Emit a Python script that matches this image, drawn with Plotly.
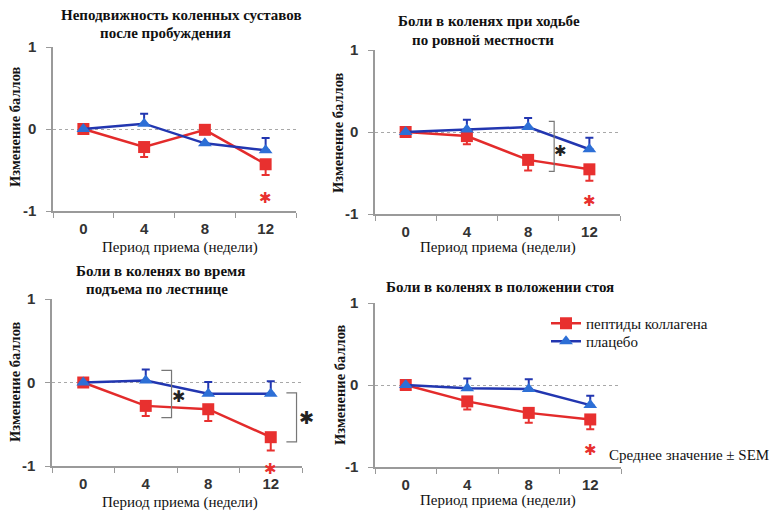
import plotly.graph_objects as go

W, H = 771, 512

weeks = [0, 4, 8, 12]
tick_labels = ["0", "4", "8", "12"]

titles = [
    ["Неподвижность коленных суставов", "после пробуждения"],
    ["Боли в коленях при ходьбе", "по ровной местности"],
    ["Боли в коленях во время", "подъема по лестнице"],
    ["Боли в коленях в положении стоя"],
]

# collagen peptides (mean change, SEM)
collagen_1 = [0, -0.22, -0.01, -0.43]
collagen_1_sem = [0, 0.12, 0.0, 0.13]
collagen_2 = [0, -0.05, -0.34, -0.455]
collagen_2_sem = [0, 0.10, 0.13, 0.14]
collagen_3 = [0, -0.28, -0.32, -0.655]
collagen_3_sem = [0, 0.12, 0.14, 0.16]
collagen_4 = [0, -0.20, -0.34, -0.42]
collagen_4_sem = [0, 0.10, 0.12, 0.12]

# placebo (mean change, SEM)
placebo_1 = [0, 0.065, -0.175, -0.26]
placebo_1_sem = [0, 0.12, 0.0, 0.15]
placebo_2 = [0, 0.03, 0.06, -0.21]
placebo_2_sem = [0, 0.12, 0.11, 0.14]
placebo_3 = [0, 0.025, -0.135, -0.135]
placebo_3_sem = [0, 0.13, 0.14, 0.15]
placebo_4 = [0, -0.04, -0.05, -0.245]
placebo_4_sem = [0, 0.12, 0.12, 0.115]

collagen = [collagen_1, collagen_2, collagen_3, collagen_4]
collagen_sem = [collagen_1_sem, collagen_2_sem, collagen_3_sem, collagen_4_sem]
placebo = [placebo_1, placebo_2, placebo_3, placebo_4]
placebo_sem = [placebo_1_sem, placebo_2_sem, placebo_3_sem, placebo_4_sem]

# significance marks: (panel, week, value)
red_star = [(0, 12, -0.84), (1, 12, -0.84), (2, 12, -1.04), (3, 12, -0.79)]
black_star = [(1, 10.1, -0.23, 15), (2, 6.1, -0.165, 16), (2, 14.3, -0.42, 18)]
# brackets: (panel, x_vertical, x_tick_end, y_top, y_bottom)
brackets = [(1, 9.7, 9.35, 0.13, -0.48), (2, 5.65, 5.0, 0.145, -0.42), (2, 13.65, 13.0, -0.125, -0.71)]

X_RANGE = [-2, 14]
Y_RANGE = [-1, 1]

RED = "#e8302f"
RED_LINE = "#e32b2b"
BLUE = "#2d6fd6"
BLUE_LINE = "#2236b0"
GRID = "#a8a8a8"
AXIS = "#9a9a9a"
SERIF = "Liberation Serif"
SANS = "Liberation Sans"

# panel geometry in pixels: (left, right, top(y=1), bottom(y=-1))
panels_px = [(53, 296, 47, 211), (375, 620, 50, 214), (52, 302, 299, 466), (375, 621, 303, 467)]


def px(x):
    return x / W


def py(y):
    return 1 - y / H


def data_to_paper(i, xv, yv):
    l, r, t, b = panels_px[i]
    xp = l + (xv - X_RANGE[0]) / (X_RANGE[1] - X_RANGE[0]) * (r - l)
    yp = b - (yv - Y_RANGE[0]) / (Y_RANGE[1] - Y_RANGE[0]) * (b - t)
    return px(xp), py(yp)


fig = go.Figure()

tick_font = dict(family=SANS, size=15, color="#333", weight="bold")

for i in range(4):
    xa = "x" if i == 0 else f"x{i+1}"
    ya = "y" if i == 0 else f"y{i+1}"
    fig.add_trace(go.Scatter(
        x=weeks, y=collagen[i], xaxis=xa, yaxis=ya, mode="lines+markers",
        name="пептиды коллагена", showlegend=(i == 3), legend="legend",
        line=dict(color=RED_LINE, width=2.5),
        marker=dict(symbol="square", size=12, color=RED),
        error_y=dict(type="data", symmetric=False, array=[0] * 4, arrayminus=collagen_sem[i],
                     color=RED, thickness=2, width=4),
        cliponaxis=False,
    ))
    fig.add_trace(go.Scatter(
        x=weeks, y=placebo[i], xaxis=xa, yaxis=ya, mode="lines+markers",
        name="плацебо", showlegend=(i == 3), legend="legend2",
        line=dict(color=BLUE_LINE, width=2.5),
        marker=dict(symbol="triangle-up", size=12, color=BLUE),
        error_y=dict(type="data", symmetric=False, array=placebo_sem[i], arrayminus=[0] * 4,
                     color=BLUE_LINE, thickness=2, width=4),
        cliponaxis=False,
    ))

    l, r, t, b = panels_px[i]
    xkey = "xaxis" if i == 0 else f"xaxis{i+1}"
    ykey = "yaxis" if i == 0 else f"yaxis{i+1}"
    fig.update_layout(**{
        xkey: dict(domain=[px(l), px(r)], anchor=ya, range=X_RANGE, automargin=False,
                   tickvals=weeks, ticktext=tick_labels, ticks="",
                   showgrid=False, zeroline=False, showline=True, linecolor=AXIS, linewidth=1.5,
                   tickfont=tick_font, ticklabelstandoff=3,
                   minor=dict(tickvals=[-2, 2, 6, 10, 14], ticks="outside", ticklen=5,
                              tickcolor=AXIS, tickwidth=1, showgrid=False)),
        ykey: dict(domain=[py(b), py(t)], anchor=xa, range=Y_RANGE, automargin=False,
                   tickvals=[-1, 0, 1], ticktext=["-1", "0", "1"], ticks="outside", ticklen=5,
                   tickcolor=AXIS, showgrid=True, gridcolor=GRID, griddash="dot", gridwidth=1.3,
                   zeroline=False, showline=True, linecolor=AXIS, linewidth=1.5,
                   tickfont=tick_font, ticklabelstandoff=7),
    })

annotations = []

# titles
title_pos = [
    [(181, 15), (165, 33)],
    [(489, 21), (483, 40)],
    [(160, 271), (157, 289)],
    [(500, 287)],
]
for i, lines in enumerate(titles):
    for txt, (cx, cy) in zip(lines, title_pos[i]):
        annotations.append(dict(text=f"<b>{txt}</b>", x=px(cx), y=py(cy), xref="paper", yref="paper",
                                showarrow=False, font=dict(family=SERIF, size=15, color="#111"),
                                xanchor="center", yanchor="middle"))

# axis titles
ytitle_pos = [(15, 127), (338, 133), (15, 382), (340, 385)]
xtitle_pos = [(180, 247), (498, 247), (180, 502), (498, 500)]
for i in range(4):
    annotations.append(dict(text="<b>Изменение баллов</b>", x=px(ytitle_pos[i][0]), y=py(ytitle_pos[i][1]),
                            xref="paper", yref="paper", showarrow=False, textangle=-90,
                            font=dict(family=SERIF, size=14.5, color="#111"),
                            xanchor="center", yanchor="middle"))
    annotations.append(dict(text="Период приема (недели)", x=px(xtitle_pos[i][0]), y=py(xtitle_pos[i][1]),
                            xref="paper", yref="paper", showarrow=False,
                            font=dict(family=SERIF, size=15, color="#111"),
                            xanchor="center", yanchor="middle"))

for (i, wx, val) in red_star:
    xp, yp = data_to_paper(i, wx, val)
    annotations.append(dict(text="✱", x=xp, y=yp, xref="paper", yref="paper", showarrow=False,
                            font=dict(family="DejaVu Sans", size=15, color=RED),
                            xanchor="center", yanchor="middle"))
for (i, wx, val, sz) in black_star:
    xp, yp = data_to_paper(i, wx, val)
    annotations.append(dict(text="✱", x=xp, y=yp, xref="paper", yref="paper", showarrow=False,
                            font=dict(family="DejaVu Sans", size=sz, color="#222"),
                            xanchor="center", yanchor="middle"))

annotations.append(dict(text="Среднее значение ± SEM", x=px(607), y=py(455), xref="paper", yref="paper",
                        showarrow=False, font=dict(family=SERIF, size=15, color="#111"),
                        xanchor="left", yanchor="middle"))

shapes = []
for (i, xv, xt, yt, yb) in brackets:
    xr = "x" if i == 0 else f"x{i+1}"
    yr = "y" if i == 0 else f"y{i+1}"
    shapes.append(dict(type="path", xref=xr, yref=yr,
                       path=f"M {xt} {yt} L {xv} {yt} L {xv} {yb} L {xt} {yb}",
                       line=dict(color="#777", width=1.2)))

legend_style = dict(xanchor="left", yanchor="top", xref="paper", yref="paper",
                    font=dict(family=SERIF, size=15, color="#111"), bgcolor="rgba(0,0,0,0)",
                    itemwidth=30)
fig.update_layout(
    width=W, height=H, margin=dict(l=0, r=0, t=0, b=0, autoexpand=False),
    paper_bgcolor="white", plot_bgcolor="white",
    annotations=annotations, shapes=shapes,
    showlegend=True,
    legend=dict(x=px(546), y=py(307), **legend_style),
    legend2=dict(x=px(546), y=py(325), **legend_style),
)

fig.write_html("out.html", post_script="document.body.style.margin='0';",
               config={"displayModeBar": False})
